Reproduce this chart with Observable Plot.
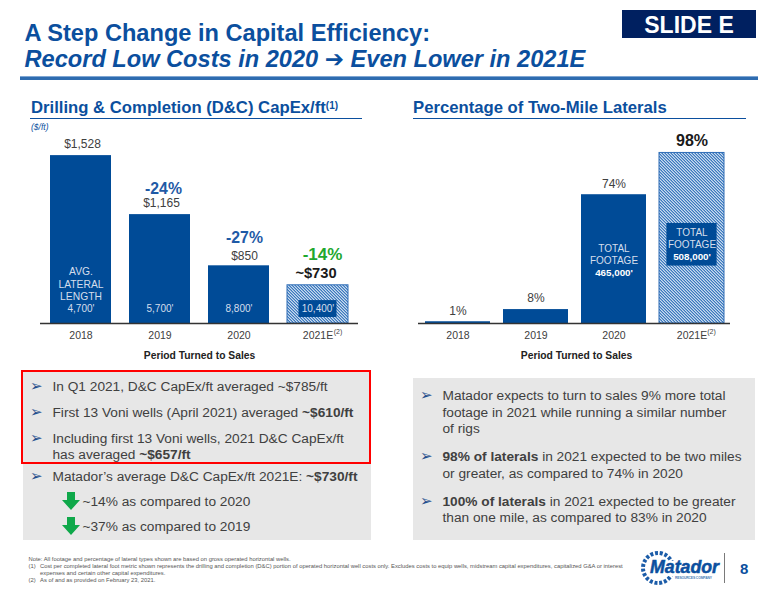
<!DOCTYPE html>
<html>
<head>
<meta charset="utf-8">
<script src="https://cdn.jsdelivr.net/npm/d3@7"></script>
<script src="https://cdn.jsdelivr.net/npm/@observablehq/plot@0.6"></script>
<style>
html,body{margin:0;padding:0;background:#fff;}
#page{position:relative;width:776px;height:600px;overflow:hidden;font-family:"Liberation Sans",Arial,sans-serif;color:#404040;}
.t{position:absolute;white-space:nowrap;line-height:1;}
.b{position:absolute;}
#page svg.plot{position:absolute;background:transparent;overflow:visible;}
sup{font-size:60%;line-height:0;vertical-align:baseline;position:relative;top:-.45em;}
</style>
</head>
<body>
<div id="page"></div>
<script>
const years = ["2018", "2019", "2020", "2021E"];
const capexPerFoot = [1528, 1165, 850, 730];
const capexLabels = ["$1,528", "$1,165", "$850", "~$730"];
const capexChanges = [null, "-24%", "-27%", "-14%"];
const lateralLengths = ["4,700'", "5,700'", "8,800'", "10,400'"];
const twoMileShare = [1, 8, 74, 98];
const footage = [null, null, "465,000'", "508,000'"];
const leftBullets = [
  "In Q1 2021, D&C CapEx/ft averaged ~$785/ft",
  "First 13 Voni wells (April 2021) averaged <b>~$610/ft</b>",
  "Including first 13 Voni wells, 2021 D&C CapEx/ft",
  "has averaged <b>~$657/ft</b>",
  "Matador’s average D&C CapEx/ft 2021E: <b>~$730/ft</b>"
];
const downBullets = ["~14% as compared to 2020", "~37% as compared to 2019"];
const rightBullets = [
  "Matador expects to turn to sales 9% more total",
  "footage in 2021 while running a similar number",
  "of rigs",
  "<b>98% of laterals</b> in 2021 expected to be two miles",
  "or greater, as compared to 74% in 2020",
  "<b>100% of laterals</b> in 2021 expected to be greater",
  "than one mile, as compared to 83% in 2020"
];
const footnotes = [
  "Note: All footage and percentage of lateral types shown are based on gross operated horizontal wells.",
  "Cost per completed lateral foot metric shown represents the drilling and completion (D&C) portion of operated horizontal well costs only. Excludes costs to equip wells, midstream capital expenditures, capitalized G&A or interest",
  "expenses and certain other capital expenditures.",
  "As of and as provided on February 23, 2021."
];

const BLUE = "#004B97", HEAD = "#0B4F9E", GREY = "#404040", LIGHT = "#D5DEEC";
const page = document.getElementById("page");
function box(x, y, w, h, css) {
  const d = document.createElement("div"); d.className = "b";
  d.style.cssText = `left:${x}px;top:${y}px;width:${w}px;height:${h}px;${css}`;
  page.appendChild(d); return d;
}
function text(x, yc, html, css = "") {
  const d = document.createElement("div"); d.className = "t";
  d.style.cssText = `left:${x}px;top:${yc}px;transform:translateY(-50%);${css}`;
  d.innerHTML = html; page.appendChild(d); return d;
}
const esc = s => s.replace(/&(?!amp;)/g, "&amp;");

// Header
text(24.5, 33, "A Step Change in Capital Efficiency:", `font:bold 23.6px 'Liberation Sans';color:${HEAD}`);
text(24.5, 58.5, "Record Low Costs in 2020 <span style=\"font-family:'DejaVu Sans';font-style:normal;font-weight:bold;font-size:23px;line-height:0\">➔</span> Even Lower in 2021E", `font:italic bold 23.6px 'Liberation Sans';color:${HEAD}`);
box(622, 10, 134, 28, "background:#002060");
text(622, 24.5, "SLIDE E", "width:134px;text-align:center;font:bold 23px 'Liberation Sans';color:#fff");
box(20, 76, 738, 1, "background:#7FA6D3");
box(20, 77.2, 738, 2.4, "background:#2E6CB0");

// Section headings
text(31, 108, "Drilling &amp; Completion (D&amp;C) CapEx/ft<sup>(1)</sup>", `font:bold 16.7px 'Liberation Sans';color:${HEAD}`);
box(30, 118, 332, 1.3, `background:${HEAD}`);
text(31, 127, "($/ft)", `font:italic 8.5px 'Liberation Sans';color:${HEAD}`);
text(413, 108, "Percentage of Two-Mile Laterals", `font:bold 16.7px 'Liberation Sans';color:${HEAD}`);
box(413, 118, 333, 1.3, `background:${HEAD}`);

// Charts
const hatchDefs = `<pattern id="hatch" patternUnits="userSpaceOnUse" width="3" height="3">
<rect width="3" height="3" fill="#3A78BE"/>
<path d="M0 0h1.5v1h-1.5zM1 1h1.5v1h-1.5zM2 2h1v1h-1zM0 2h.5v1h-.5z" fill="#C9DBEF"/></pattern>`;

function styled(svg, left, top) {
  d3.select(svg).insert("defs", ":first-child").html(hatchDefs);
  svg.style.left = left + "px"; svg.style.top = top + "px";
  svg.classList.add("plot");
  page.appendChild(svg);
}
const byYear = (vals) => years.map((year, i) => ({year, value: vals[i], i}));
const barFill = d => d.year === "2021E" ? "url(#hatch)" : BLUE;

const capexRows = byYear(capexPerFoot);
const capexAt = (i, txt, dy, dx, opts = {}) =>
  Plot.text([capexRows[i]], {x: "year", y: "value", text: () => txt, dy, dx, lineAnchor: "middle", fontSize: 12, fill: GREY, ...opts});
const changeStyle = {fontSize: 15.8, fontWeight: "bold", fill: "#1F5AA6"};

const capexPlot = Plot.plot({
  width: 380, height: 240, marginLeft: 40, marginRight: 22, marginTop: 10, marginBottom: 47,
  style: {fontFamily: "Liberation Sans", background: "transparent", color: GREY},
  x: {domain: years, paddingInner: 0.225, paddingOuter: 0.1125, axis: null},
  y: {domain: [495, 1621], axis: null},
  marks: [
    Plot.barY(capexRows, {x: "year", y1: 495, y2: "value", fill: barFill, stroke: d => d.year === "2021E" ? "#2F6DB6" : "none"}),
    Plot.barY([capexRows[3]], {x: "year", y1: 532, y2: 636, fill: BLUE, insetLeft: 11.5, insetRight: 11.5}),
    Plot.ruleY([495], {stroke: "#333", strokeWidth: 1.4}),
    Plot.axisX({tickSize: 0, tickPadding: 8, fontSize: 10.5, label: null, fill: GREY}),
    Plot.text(["2021E"], {x: d => d, frameAnchor: "bottom", text: () => "(2)", dx: 20, dy: 10, fontSize: 7, fill: GREY}),
    Plot.text(["Period Turned to Sales"], {frameAnchor: "bottom", dy: 32, fontSize: 10.3, fontWeight: "bold", fill: "#222", lineAnchor: "middle"}),
    Plot.text(byYear(lateralLengths), {x: "year", text: "value", frameAnchor: "bottom", dy: -15, fontSize: 10, fill: LIGHT, lineAnchor: "middle"}),
    Plot.text(["AVG.\nLATERAL\nLENGTH"], {x: () => years[0], frameAnchor: "bottom", dy: -23.5, fontSize: 10.3, lineHeight: 1.2, fill: LIGHT, lineAnchor: "bottom"}),
    capexAt(0, capexLabels[0], -11, 1.5),
    capexAt(1, capexLabels[1], -11, 1.5),
    capexAt(2, capexLabels[2], -10, 5.5),
    capexAt(3, capexLabels[3], -12, -2, {fontSize: 14.7, fontWeight: "bold", fill: "#1a1a1a"}),
    capexAt(1, capexChanges[1], -26, 3.5, changeStyle),
    capexAt(2, capexChanges[2], -28, 5.5, changeStyle),
    capexAt(3, capexChanges[3], -31, 4.5, {fontSize: 17, fontWeight: "bold", fill: "#1FA82F"})
  ]
});
styled(capexPlot, 0, 130);

const shareRows = byYear(twoMileShare);
const shareLabel = (i, opts = {}) =>
  Plot.text([shareRows[i]], {x: "year", y: "value", text: d => d.value + "%", dy: -11, lineAnchor: "middle", fontSize: 12, fill: GREY, ...opts});
const footageWords = d => "TOTAL\nFOOTAGE";
const sharePlot = Plot.plot({
  width: 360, height: 240, marginLeft: 18, marginRight: 30, marginTop: 0, marginBottom: 47,
  style: {fontFamily: "Liberation Sans", background: "transparent", color: GREY},
  x: {domain: years, paddingInner: 0.167, paddingOuter: 0.0835, axis: null},
  y: {domain: [0, 110.9], axis: null},
  marks: [
    Plot.barY(shareRows, {x: "year", y1: 0, y2: "value", fill: barFill, stroke: d => d.year === "2021E" ? "#2F6DB6" : "none"}),
    Plot.barY([shareRows[3]], {x: "year", y1: 33, y2: 57.5, fill: BLUE, insetLeft: 7.4, insetRight: 7.4}),
    Plot.ruleY([0], {stroke: "#333", strokeWidth: 1.4}),
    Plot.axisX({tickSize: 0, tickPadding: 8, fontSize: 10.5, label: null, fill: GREY}),
    Plot.text(["2021E"], {x: d => d, frameAnchor: "bottom", text: () => "(2)", dx: 19.5, dy: 10, fontSize: 7, fill: GREY}),
    Plot.text(["Period Turned to Sales"], {frameAnchor: "bottom", dy: 32, dx: 2, fontSize: 10.3, fontWeight: "bold", fill: "#222", lineAnchor: "middle"}),
    Plot.text([years[2]], {x: d => d, frameAnchor: "bottom", text: footageWords, dy: -59.5, fontSize: 10, lineHeight: 1.17, fill: LIGHT, lineAnchor: "bottom"}),
    Plot.text([years[2]], {x: d => d, frameAnchor: "bottom", text: () => footage[2], dy: -50.5, fontSize: 9.8, fontWeight: "bold", fill: "#fff", lineAnchor: "middle"}),
    Plot.text([years[3]], {x: d => d, frameAnchor: "bottom", text: footageWords, dy: -76, fontSize: 10, lineHeight: 1.17, fill: LIGHT, lineAnchor: "bottom"}),
    Plot.text([years[3]], {x: d => d, frameAnchor: "bottom", text: () => footage[3], dy: -67, fontSize: 9.8, fontWeight: "bold", fill: "#fff", lineAnchor: "middle"}),
    shareLabel(0), shareLabel(1), shareLabel(2),
    shareLabel(3, {fontSize: 16, fontWeight: "bold", fill: "#1a1a1a", dy: -12})
  ]
});
styled(sharePlot, 400, 130);

// Panels
box(22.5, 370, 348, 170, "background:#E7E7E7");
box(413, 378, 342, 162, "background:#E7E7E7");
box(21, 370, 350, 94, "border:2.5px solid #F00;box-sizing:border-box");

const arrowMark = (x, yc) => text(x, yc, "➢", "font:15px 'DejaVu Sans';color:#1F4E8C");
const bodyFont = "font:13.7px 'Liberation Sans';color:#404040;";
const leftY = [386, 412, 437.5, 453.5, 476];
leftBullets.forEach((s, i) => {
  text(52.5, leftY[i], esc(s), bodyFont);
  if (i !== 3) arrowMark(30, leftY[i]);
});
const downY = [501, 526];
downBullets.forEach((s, i) => {
  text(82.5, downY[i], s, bodyFont);
  const a = document.createElementNS("http://www.w3.org/2000/svg", "svg");
  a.setAttribute("width", 18); a.setAttribute("height", 18); a.setAttribute("viewBox", "0 0 18 18");
  a.style.cssText = `position:absolute;left:62px;top:${downY[i] - 9}px`;
  a.innerHTML = '<path d="M5 0h8v8h5L9 18 0 8h5z" fill="#0FA84A"/>';
  page.appendChild(a);
});
const rightY = [395, 412, 428, 456, 472.5, 501, 517];
rightBullets.forEach((s, i) => {
  text(442.5, rightY[i], s, bodyFont);
  if (i === 0 || i === 3 || i === 5) arrowMark(420, rightY[i]);
});

// Footnotes
const fnFont = "font:5.83px 'Liberation Sans';color:#555;";
text(28.5, 559, footnotes[0], fnFont);
text(28.5, 565.8, "(1)", fnFont); text(40, 565.8, esc(footnotes[1]), fnFont);
text(40, 573, footnotes[2], fnFont);
text(28.5, 580, "(2)", fnFont); text(40, 580, footnotes[3], fnFont);

// Logo and page number
const logo = document.createElementNS("http://www.w3.org/2000/svg", "svg");
logo.setAttribute("width", 90); logo.setAttribute("height", 44);
logo.style.cssText = "position:absolute;left:640px;top:548px";
logo.innerHTML = `<circle cx="18" cy="20" r="15" fill="none" stroke="#1B5CA8" stroke-width="4" stroke-dasharray="3 1.8"/>
<rect x="8" y="13" width="72" height="15" fill="#fff"/>
<text x="10" y="25" font-family="Liberation Sans" font-weight="bold" font-style="italic" font-size="17.5" textLength="69" lengthAdjust="spacingAndGlyphs" fill="#0B4F9E" stroke="#0B4F9E" stroke-width=".5">Matador</text>
<text x="35" y="31" font-family="Liberation Sans" font-weight="bold" font-size="3.4" textLength="37" fill="#4A7DB8">RESOURCES COMPANY</text>`;
page.appendChild(logo);
box(724, 553, 1.4, 30, "background:#7A7A7A");
text(740, 568, "8", `font:bold 15px 'Liberation Sans';color:${HEAD}`);
</script>
</body>
</html>
